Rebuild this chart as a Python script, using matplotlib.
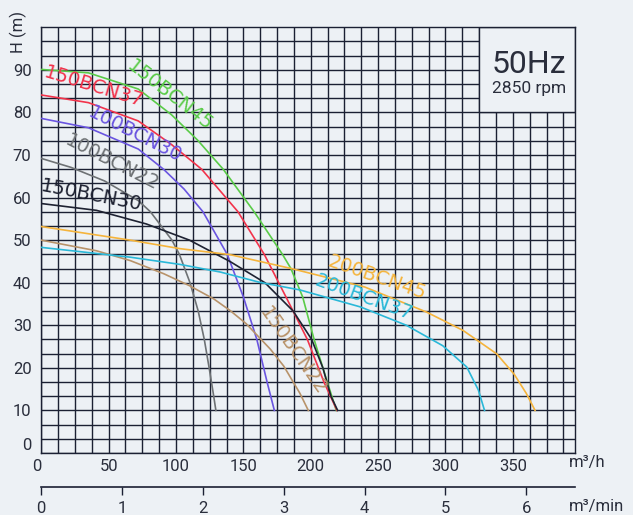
import matplotlib
matplotlib.use("Agg")
import matplotlib.pyplot as plt
import numpy as np
from matplotlib.patches import Rectangle

# pump curves: Q in m3/h, H in m
q_150bcn45 = [0, 35, 72, 96.5, 116, 135, 158, 179, 185.3, 194, 202.5, 212.3, 219]
h_150bcn45 = [90.1, 89.3, 85.5, 79.5, 73.5, 66.67, 56.67, 46.67, 43.33, 36.67, 26.67, 16.67, 10]

q_150bcn37 = [0, 35, 72, 96.5, 119, 146, 165.5, 181.6, 197.5, 209.8, 219.5]
h_150bcn37 = [84.1, 82.3, 78, 72.5, 66.67, 56.67, 46.67, 36.67, 26.67, 16.67, 10]

q_100bcn30 = [0, 35, 72, 90.7, 106, 120, 138, 150, 160, 167.6, 173]
h_100bcn30 = [78.6, 76.4, 71.4, 66.67, 62, 56.67, 46.67, 36.67, 26.67, 16.67, 10]

q_100bcn22 = [0, 22, 47, 72, 81, 97, 102.5, 110.4, 116.5, 121, 124.6, 128, 129.6]
h_100bcn22 = [69.2, 67.1, 63.9, 59.3, 56.67, 50, 46.67, 40, 33.33, 26.67, 20, 13.33, 10]

q_150bcn30 = [0, 41, 78, 110, 140, 166, 187, 200.7, 209, 215, 220]
h_150bcn30 = [58.6, 57, 53.8, 50, 45, 40, 33.33, 26.67, 20, 13.33, 10]

q_150bcn22 = [0, 41, 66, 91, 110, 128, 140, 152, 170, 180, 192, 198.2]
h_150bcn22 = [50, 47.5, 45.2, 42.1, 39.3, 36.2, 33.5, 30.4, 24.4, 20.4, 14, 10]

q_200bcn45 = [0, 66, 103, 140, 186, 240, 286, 313, 338, 351, 360, 366.5]
h_200bcn45 = [53.2, 50, 48, 46.6, 43.3, 39, 33.1, 28.8, 23.3, 18.5, 14, 10]

q_200bcn37 = [0, 66, 103, 133, 162, 192, 237, 271, 298, 315.8, 324.4, 329]
h_200bcn37 = [48.3, 46, 44.3, 42.5, 40.1, 38.3, 34.3, 30, 25.2, 20.2, 14.8, 10]

x_ticks = [0, 50, 100, 150, 200, 250, 300, 350]
y_ticks = [0, 10, 20, 30, 40, 50, 60, 70, 80, 90]
min_ticks = [0, 1, 2, 3, 4, 5, 6]

BG = "#edf1f5"
INK = "#1b2033"
TXT = "#2a2e3c"

curves = [
    (q_150bcn45, h_150bcn45, "#5acb48", "150BCN45", 95.5, 84.0, -38),
    (q_150bcn37, h_150bcn37, "#f2334b", "150BCN37", 39.1, 86.0, -17),
    (q_100bcn30, h_100bcn30, "#6a55e0", "100BCN30", 69.5, 74.8, -27),
    (q_100bcn22, h_100bcn22, "#6e7275", "100BCN22", 52.8, 68.2, -27),
    (q_150bcn30, h_150bcn30, "#1e2232", "150BCN30", 37.4, 60.4, -11),
    (q_150bcn22, h_150bcn22, "#b8936a", "150BCN22", 187, 24.0, -55),
    (q_200bcn45, h_200bcn45, "#f5b43c", "200BCN45", 249, 41.2, -19),
    (q_200bcn37, h_200bcn37, "#2ab8d8", "200BCN37", 239.6, 36.5, -20),
]

plt.rcParams["font.family"] = ["Roboto", "DejaVu Sans"]

fig = plt.figure(figsize=(6.33, 5.15), dpi=100, facecolor=BG)
ax = fig.add_axes([0.0652, 0.1204, 0.8437, 0.8266], facecolor=BG)

ax.set_xlim(0, 396.4)
ax.set_ylim(0, 100)
ax.set_xticks(x_ticks)
ax.set_yticks(y_ticks)
ax.set_xticks(np.arange(0, 396, 12.5), minor=True)
ax.set_yticks(np.arange(0, 100, 10 / 3), minor=True)
ax.grid(True, which="both", color=INK, lw=1.0)
ax.set_axisbelow(True)
ax.tick_params(which="both", length=0, colors=TXT, labelsize=12)
ax.tick_params(axis="x", pad=4)
ax.tick_params(axis="y", pad=7)
for sp in ax.spines.values():
    sp.set_color(INK)
    sp.set_linewidth(1.0)

ax.get_xticklabels()[0].set_ha("right")
ax.get_yticklabels()[0].set_va("bottom")

# box that hides the grid behind the frequency note
ax.add_patch(Rectangle((325, 80), 396.4 - 325, 20, facecolor=BG, edgecolor=INK,
                       lw=1.0, zorder=1.5))
ax.text(362, 91.3, "50Hz", fontsize=23, color=TXT, ha="center", va="center")
ax.text(362, 85.7, "2850 rpm", fontsize=12.5, color=TXT, ha="center", va="center")

for q, h, col, name, tx, ty, rot in curves:
    ax.plot(q, h, color=col, lw=1.2, zorder=3, solid_joinstyle="round")
    ax.text(tx, ty, name, color=col, fontsize=14, rotation=rot,
            rotation_mode="anchor", ha="center", va="center",
            family="DejaVu Sans", zorder=4)

sec = ax.secondary_xaxis(-0.0792, functions=(lambda x: x / 60, lambda x: x * 60))
sec.set_xticks(min_ticks)
sec.spines["bottom"].set_color(INK)
sec.spines["bottom"].set_linewidth(1.2)
sec.tick_params(direction="out", length=6, width=1.0, colors=INK,
                labelcolor=TXT, labelsize=12, pad=4)

fig.text(569 / 633, 1 - 462 / 515, "m³/h", fontsize=12, color=TXT,
         ha="left", va="center")
fig.text(569 / 633, 1 - 507 / 515, "m³/min", fontsize=12, color=TXT,
         ha="left", va="center")
fig.text(18 / 633, 1 - 32 / 515, "H (m)", fontsize=12, color=TXT,
         rotation=90, ha="center", va="center")

fig.savefig("out.png", dpi=100, facecolor=BG)
